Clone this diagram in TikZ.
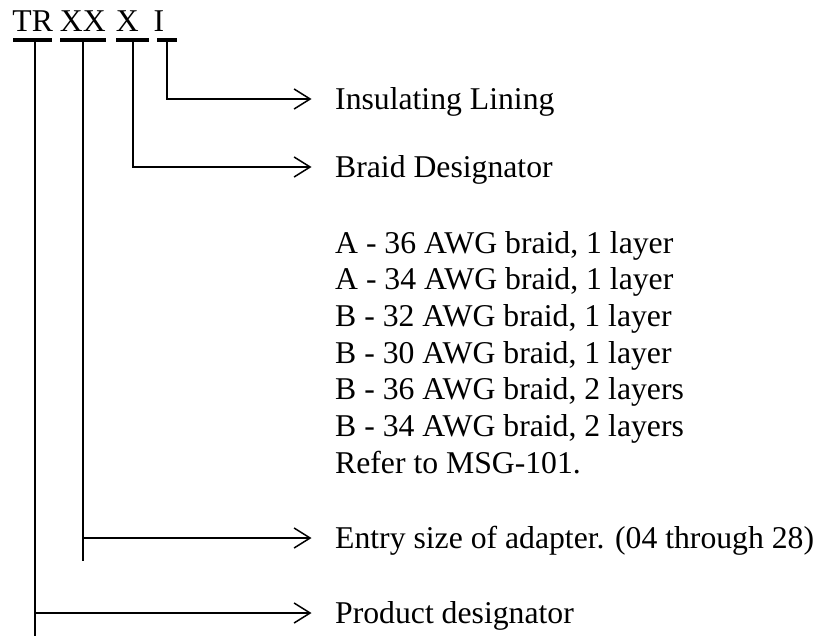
\documentclass[tikz,border=0pt]{standalone}
\usepackage{fontspec}
\setmainfont{Liberation Serif}
\usetikzlibrary{arrows.meta}
\begin{document}
\begin{tikzpicture}[x=1pt,y=-1pt,
  lbl/.style={inner sep=0pt, anchor=west, text height=21pt, text depth=0pt, font=\fontsize{31.7}{36.7}\selectfont},
  code/.style={inner sep=0pt, anchor=base west, font=\fontsize{31.7}{36.7}\selectfont},
  bar/.style={fill=black, inner sep=0pt, minimum height=4pt},
  stem/.style={line width=1.5pt},
  pointer/.style={line width=1.5pt, -{Straight Barb[length=16pt,width=20pt]}, shorten >=23.5pt}
]
\useasboundingbox (0,0) rectangle (821,636);
% code letters
\node[code] (tTR) at (12.2,31.7) {TR};
\node[code] (tXX) at (59.7,31.7) {XX};
\node[code] (tX) at (115.7,31.7) {X};
\node[code] (tI) at (153.4,31.7) {I};
% underline bars
\node[bar, minimum width=39pt] (barTR) at (32.5,39.7) {};
\node[bar, minimum width=46pt] (barXX) at (83,39.7) {};
\node[bar, minimum width=33pt] (barX) at (132.5,39.7) {};
\node[bar, minimum width=20pt] (barI) at (167,39.7) {};
% stem tops and ends
\coordinate (sTR) at (35,39.7);
\coordinate (sXX) at (83,39.7);
\coordinate (sX) at (133,39.7);
\coordinate (sI) at (167,39.7);
\coordinate (eTR) at (35,636);
\coordinate (eXX) at (83,561);
% labels
\node[lbl] (ins) at (335,99) {Insulating Lining};
\node[lbl] (braid) at (335,167) {Braid Designator};
% base anchor of a multi-line node is the last line's baseline
\node[code, align=left] (list) at (335,473.2) {A - 36 AWG braid, 1 layer\\
A - 34 AWG braid, 1 layer\\
B - 32 AWG braid, 1 layer\\
B - 30 AWG braid, 1 layer\\
B - 36 AWG braid, 2 layers\\
B - 34 AWG braid, 2 layers\\
Refer to MSG-101.};
\node[lbl] (entry) at (335,538) {Entry size of adapter. (04 through 28)};
\node[lbl] (prod) at (335,613) {Product designator};
% connectors
\draw[pointer] (sI) |- (ins);
\draw[pointer] (sX) |- (braid);
\draw[stem] (sXX) -- (eXX);
\draw[pointer] (sXX |- entry) -- (entry);
\draw[stem] (sTR) -- (eTR);
\draw[pointer] (sTR |- prod) -- (prod);
\end{tikzpicture}
\end{document}
